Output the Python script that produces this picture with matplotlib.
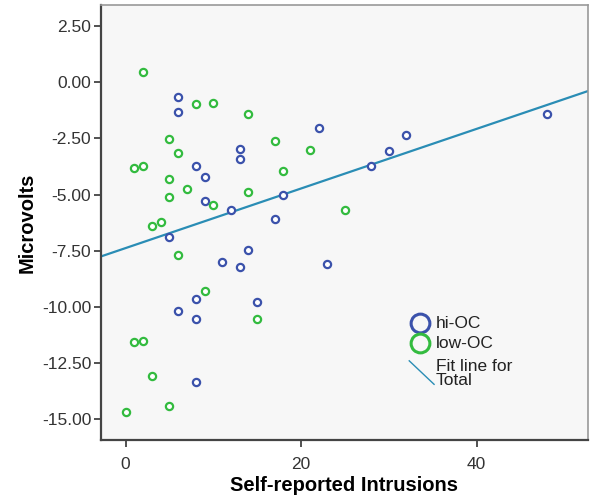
import numpy as np
import matplotlib
matplotlib.use('Agg')
import matplotlib.pyplot as plt

plt.rcParams['font.family'] = ['Liberation Sans', 'DejaVu Sans']

# hi-OC group
hi_x = [6, 6, 13, 13, 8, 9, 18, 9, 12, 17, 5, 14, 11, 13, 8, 15, 6, 8, 8,
        22, 32, 30, 28, 48, 23]
hi_y = [-0.65, -1.35, -2.97, -3.40, -3.75, -4.21, -5.04, -5.30, -5.70, -6.07,
        -6.88, -7.45, -7.99, -8.23, -9.64, -9.79, -10.17, -10.53, -13.32,
        -2.05, -2.34, -3.06, -3.72, -1.42, -8.08]

# low-OC group
low_x = [2, 8, 10, 14, 5, 17, 6, 1, 2, 18, 5, 7, 14, 5, 10, 3, 4, 6, 9, 15,
         1, 2, 3, 5, 0, 21, 25]
low_y = [0.43, -0.97, -0.91, -1.44, -2.55, -2.60, -3.16, -3.84, -3.72, -3.96,
         -4.29, -4.76, -4.89, -5.13, -5.46, -6.41, -6.21, -7.67, -9.27, -10.53,
         -11.55, -11.52, -13.08, -14.41, -14.68, -3.04, -5.68]

y_ticks = [2.5, 0.0, -2.5, -5.0, -7.5, -10.0, -12.5, -15.0]
x_ticks = [0, 20, 40]

blue = '#3b52ab'
green = '#33bb3f'
fit_color = '#2a8db5'

fig = plt.figure(figsize=(5.93, 5.0), dpi=100)
ax = fig.add_axes([0.1703, 0.12, 0.8212, 0.87])
ax.set_facecolor('#f7f7f7')

xlim = (-2.8, 52.7)
ax.set_xlim(xlim)
ax.set_ylim(-15.92, 3.43)

# Fit line for total
all_x = np.array(hi_x + low_x)
all_y = np.array(hi_y + low_y)
slope, icpt = np.polyfit(all_x, all_y, 1)
lx = np.array(xlim)
ax.plot(lx, icpt + slope*lx, color=fit_color, lw=1.6, zorder=2)

ax.plot(hi_x, hi_y, 'o', ms=5.2, mfc='white', mec=blue, mew=1.6, zorder=3)
ax.plot(low_x, low_y, 'o', ms=5.2, mfc='white', mec=green, mew=1.6, zorder=3)

ax.set_yticks(y_ticks)
ax.set_yticklabels(['%.2f' % v for v in y_ticks])
ax.set_xticks(x_ticks)
ax.tick_params(axis='both', labelsize=12.5, labelcolor='#333333', color='#333333',
               length=5, width=1.2, direction='out')
ax.tick_params(axis='y', pad=2)
ax.tick_params(axis='x', pad=7)

for s in ['left', 'bottom']:
    ax.spines[s].set_color('#444444')
    ax.spines[s].set_linewidth(1.6)
for s in ['top', 'right']:
    ax.spines[s].set_color('#999999')
    ax.spines[s].set_linewidth(1.2)

ax.set_xlabel('Self-reported Intrusions', fontsize=14.5, fontweight='bold', labelpad=3)
ax.set_ylabel('Microvolts', fontsize=14.5, fontweight='bold', labelpad=4)

# legend drawn by hand (diagonal fit line symbol)
tr = ax.transAxes
ax.plot([0.656], [0.268], 'o', ms=13.5, mfc='none', mec=blue, mew=2.2, transform=tr, clip_on=False)
ax.plot([0.656], [0.222], 'o', ms=13.5, mfc='none', mec=green, mew=2.2, transform=tr, clip_on=False)
ax.plot([0.633, 0.684], [0.182, 0.128], color=fit_color, lw=1.0, transform=tr)
ax.text(0.688, 0.268, 'hi-OC', transform=tr, fontsize=12.5, color='#222222', va='center')
ax.text(0.688, 0.222, 'low-OC', transform=tr, fontsize=12.5, color='#222222', va='center')
ax.text(0.688, 0.153, 'Fit line for\nTotal', transform=tr, fontsize=12.5, color='#222222',
        va='center', linespacing=0.9)

fig.savefig('out.png', dpi=100)
